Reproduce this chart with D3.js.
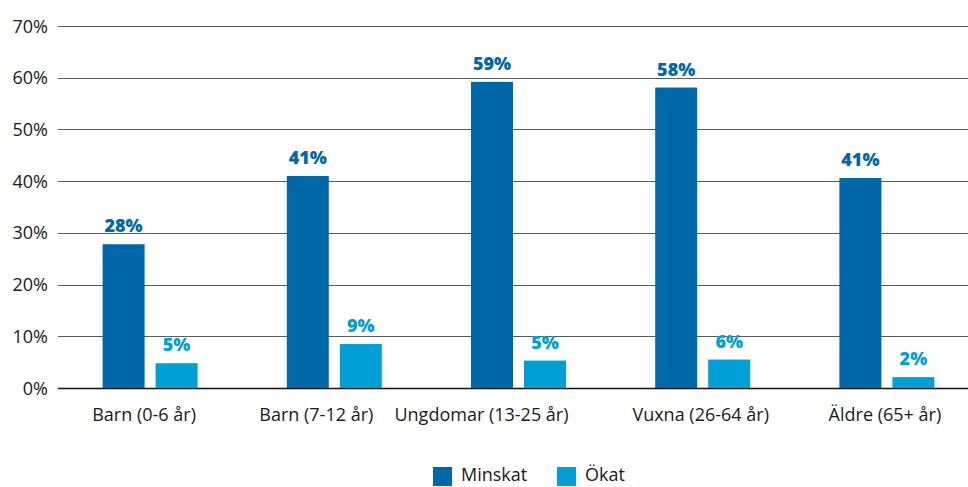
<!DOCTYPE html>
<html>
<head>
<meta charset="utf-8">
<script src="https://cdn.jsdelivr.net/npm/d3@7"></script>
<style>
  html, body { margin: 0; padding: 0; background: #fff; }
  svg { display: block; font-family: "Open Sans", "Noto Sans", sans-serif; }
</style>
</head>
<body>
<svg id="chart" width="968" height="487"></svg>
<script>
// Age groups along the x axis
const categories = ["Barn (0-6 år)", "Barn (7-12 år)", "Ungdomar (13-25 år)", "Vuxna (26-64 år)", "Äldre (65+ år)"];
// Share (%) that reported a decrease / an increase
const minskat = [27.8, 41, 59.2, 58.1, 40.6];
const okat = [4.8, 8.5, 5.3, 5.5, 2.1];
const seriesNames = ["Minskat", "Ökat"];
const yTicks = [0, 10, 20, 30, 40, 50, 60, 70];

const colors = ["#0068a9", "#009fd6"];
const labelColors = ["#0068a9", "#009fd6"];

const svg = d3.select("#chart");
const W = 968;
const y0 = 388, y1 = 26;

const x = d3.scaleBand().domain(categories).range([58, 979]).paddingInner(0).paddingOuter(0);
const y = d3.scaleLinear().domain([0, 70]).range([y0, y1]);

// gridlines + tick labels
const grid = svg.append("g");
grid.selectAll("line").data(yTicks).join("line")
  .attr("x1", 58).attr("x2", W)
  .attr("y1", d => Math.round(y(d)) + 0.5).attr("y2", d => Math.round(y(d)) + 0.5)
  .attr("stroke", d => d === 0 ? "#111" : "#5a5a5a")
  .attr("stroke-width", d => d === 0 ? 1.5 : 1.2);
grid.selectAll("text").data(yTicks).join("text")
  .attr("x", 48).attr("y", d => y(d) + 6.5)
  .attr("text-anchor", "end")
  .attr("font-size", 18).attr("fill", "#1a1a1a")
  .text(d => d + "%");

// grouped bars
const barW = 42, gap = 11;
const series = [minskat, okat];
const groups = svg.append("g");
series.forEach((vals, si) => {
  const off = si === 0 ? -(barW + gap / 2) : gap / 2;
  groups.append("g").selectAll("rect").data(vals).join("rect")
    .attr("x", (d, i) => x(categories[i]) + x.bandwidth() / 2 + off)
    .attr("y", d => y(d))
    .attr("width", barW)
    .attr("height", d => y0 - y(d))
    .attr("fill", colors[si]);
  groups.append("g").selectAll("text").data(vals).join("text")
    .attr("x", (d, i) => x(categories[i]) + x.bandwidth() / 2 + off + barW / 2)
    .attr("y", d => y(d) - 12)
    .attr("text-anchor", "middle")
    .attr("font-size", 18).attr("font-weight", 800)
    .attr("fill", labelColors[si])
    .text(d => Math.round(d) + "%");
});

// category labels
const labelNudge = [-6, -18, -37, -2, -2];
svg.append("g").selectAll("text").data(categories).join("text")
  .attr("x", (d, i) => x(d) + x.bandwidth() / 2 + labelNudge[i])
  .attr("y", 421)
  .attr("text-anchor", "middle")
  .attr("font-size", 18).attr("fill", "#1a1a1a")
  .text(d => d);

// legend
const legend = svg.append("g");
const legX = [433, 557];
seriesNames.forEach((name, i) => {
  legend.append("rect").attr("x", legX[i]).attr("y", 467).attr("width", 19).attr("height", 19).attr("fill", colors[i]);
  legend.append("text").attr("x", legX[i] + 28).attr("y", 481)
    .attr("font-size", 18).attr("fill", "#1a1a1a").text(name);
});
</script>
</body>
</html>
